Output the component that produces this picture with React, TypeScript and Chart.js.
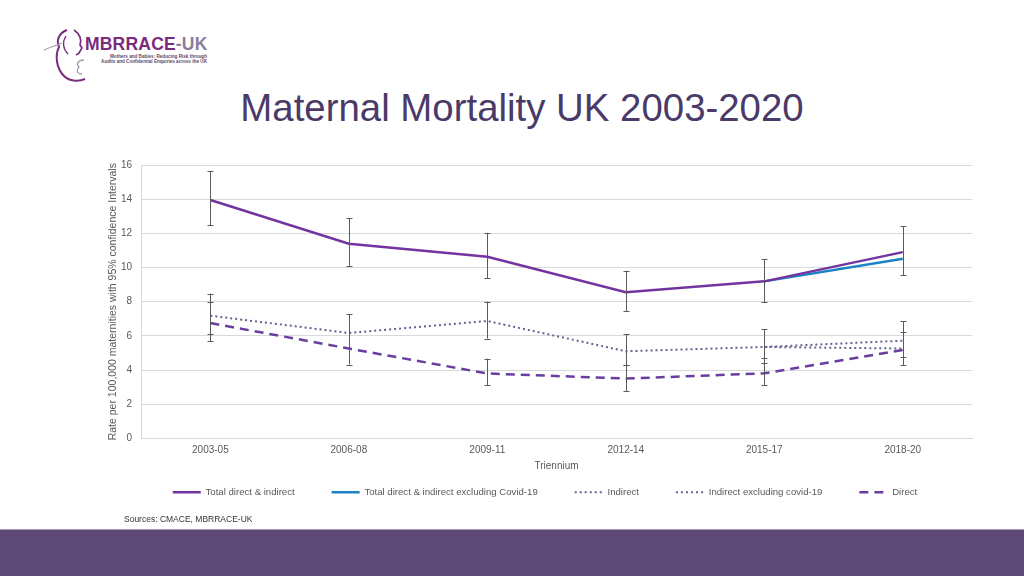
import React, { useEffect, useRef } from "react";
import { Chart, registerables } from "chart.js";

Chart.register(...registerables);

const categories = ["2003-05", "2006-08", "2009-11", "2012-14", "2015-17", "2018-20"];

const total = [13.95, 11.39, 10.63, 8.56, 9.19, 10.9];
const totalLow = [12.46, 10.1, 9.38, 7.44, 7.98, 9.54];
const totalHigh = [15.65, 12.9, 12.03, 9.81, 10.49, 12.42];

const totalExCovid = [null, null, null, null, 9.19, 10.51];

const indirect = [7.18, 6.17, 6.87, 5.1, 5.35, 5.72];
const indirectLow = [6.13, 4.32, 5.84, 4.28, 4.44, 4.77];
const indirectHigh = [8.47, 7.27, 8.0, 6.11, 6.38, 6.87];

const indirectExCovid = [null, null, null, null, 5.35, 5.26];

const direct = [6.75, 5.26, 3.8, 3.5, 3.81, 5.18];
const directLow = [5.7, null, 3.1, 2.76, 3.1, 4.28];
const directHigh = [7.98, null, 4.67, 4.28, 4.71, 6.25];

const yTicks = [0, 2, 4, 6, 8, 10, 12, 14, 16];

const seriesNames = [
  "Total direct & indirect",
  "Total direct & indirect excluding Covid-19",
  "Indirect",
  "Indirect excluding covid-19",
  "Direct",
];

const errorSets = [
  { low: totalLow, high: totalHigh },
  { low: indirectLow, high: indirectHigh },
  { low: directLow, high: directHigh },
];

const FONT = "'Liberation Sans', Arial, sans-serif";

const errorBarPlugin = {
  id: "errorBars",
  afterDatasetsDraw(chart: any) {
    const ctx = chart.ctx;
    const xs = chart.scales.x;
    const ys = chart.scales.y;
    ctx.save();
    ctx.strokeStyle = "#5a5a5a";
    ctx.lineWidth = 1;
    errorSets.forEach((set) => {
      set.low.forEach((lo: any, i: number) => {
        const hi = set.high[i];
        if (lo == null || hi == null) return;
        const x = Math.round(xs.getPixelForValue(i)) + 0.5;
        const y1 = ys.getPixelForValue(lo);
        const y2 = ys.getPixelForValue(hi);
        ctx.beginPath();
        ctx.moveTo(x, y1);
        ctx.lineTo(x, y2);
        ctx.moveTo(x - 3, Math.round(y1) + 0.5);
        ctx.lineTo(x + 3, Math.round(y1) + 0.5);
        ctx.moveTo(x - 3, Math.round(y2) + 0.5);
        ctx.lineTo(x + 3, Math.round(y2) + 0.5);
        ctx.stroke();
      });
    });
    ctx.restore();
  },
};

const LEGEND_SHIFT = 26;
const legendShiftPlugin = {
  id: "legendShift",
  afterLayout(chart: any) {
    const l = chart.legend;
    if (!l) return;
    l.top -= LEGEND_SHIFT;
    l.bottom -= LEGEND_SHIFT;
    l.right += 18;
  },
};

function ChartBox() {
  const ref = useRef<HTMLCanvasElement>(null);
  useEffect(() => {
    if (!ref.current) return;
    const chart = new Chart(ref.current, {
      type: "line",
      data: {
        labels: categories,
        datasets: [
          {
            label: seriesNames[0],
            data: total,
            borderColor: "#7434a0",
            backgroundColor: "#7434a0",
            borderWidth: 2.5,
            pointRadius: 0,
            tension: 0,
          },
          {
            label: seriesNames[1],
            data: totalExCovid,
            borderColor: "#1b82c4",
            backgroundColor: "#1b82c4",
            borderWidth: 2.5,
            pointRadius: 0,
            tension: 0,
          },
          {
            label: seriesNames[2],
            data: indirect,
            borderColor: "#6e5d90",
            backgroundColor: "#6e5d90",
            borderWidth: 2,
            borderDash: [2, 3],
            pointRadius: 0,
            tension: 0,
          },
          {
            label: seriesNames[3],
            data: indirectExCovid,
            borderColor: "#5f6a86",
            backgroundColor: "#5f6a86",
            borderWidth: 2,
            borderDash: [2, 3],
            pointRadius: 0,
            tension: 0,
          },
          {
            label: seriesNames[4],
            data: direct,
            borderColor: "#6a3ea0",
            backgroundColor: "#6a3ea0",
            borderWidth: 2.5,
            borderDash: [9, 6],
            pointRadius: 0,
            tension: 0,
          },
        ],
      },
      options: {
        animation: false,
        responsive: true,
        maintainAspectRatio: false,
        layout: { padding: { top: 8, left: 0, right: 18, bottom: 0 } },
        plugins: {
          legend: {
            position: "bottom",
            labels: {
              usePointStyle: true,
              pointStyle: "line",
              pointStyleWidth: 28,
              boxWidth: 28,
              padding: 37,
              color: "#595959",
              font: { family: FONT, size: 9.6 },
              generateLabels(chart: any) {
                const items = Chart.defaults.plugins.legend.labels.generateLabels(chart);
                return items.map((it: any) => {
                  const ds = chart.data.datasets[it.datasetIndex];
                  return {
                    ...it,
                    lineDash: ds.borderDash || [],
                    lineWidth: ds.borderWidth,
                    strokeStyle: ds.borderColor,
                  };
                });
              },
            },
          },
          tooltip: { enabled: false },
        },
        scales: {
          x: {
            offset: true,
            grid: { display: false, drawTicks: false },
            border: { display: true, color: "#d9d9d9" },
            ticks: { color: "#595959", font: { family: FONT, size: 10 }, padding: 6 },
            title: {
              display: true,
              text: "Triennium",
              color: "#595959",
              font: { family: FONT, size: 10 },
              padding: { top: -2, bottom: 4 },
            },
          },
          y: {
            min: 0,
            max: 16,
            afterBuildTicks(scale: any) {
              scale.ticks = yTicks.map((v) => ({ value: v }));
            },
            grid: { color: "#d9d9d9", drawTicks: false },
            border: { display: true, color: "#d9d9d9" },
            ticks: { color: "#595959", font: { family: FONT, size: 10 }, padding: 9 },
            title: {
              display: true,
              text: "Rate per 100,000 maternities with 95% confidence Intervals",
              color: "#595959",
              font: { family: FONT, size: 10.5 },
              padding: { top: 7, bottom: -7.6 },
            },
          },
        },
      },
      plugins: [errorBarPlugin, legendShiftPlugin],
    });
    return () => chart.destroy();
  }, []);
  return (
    <div style={{ position: "absolute", left: 100, top: 150, width: 890, height: 383 }}>
      <canvas ref={ref} />
    </div>
  );
}

function Logo() {
  return (
    <div style={{ position: "absolute", left: 0, top: 0, width: 240, height: 90 }}>
      <svg width="240" height="90" style={{ position: "absolute", left: 0, top: 0 }}>
        <path d="M67 30 C59 33 56 40 59 47 C55 55 56 68 64 76 C69 81 78 82 85 79" fill="none" stroke="#7a2e7c" strokeWidth="2" />
        <path d="M74 30 C80 34 82 40 80 45 L82 48 C80 50 81 53 76 55" fill="none" stroke="#7a2e7c" strokeWidth="1.7" />
        <path d="M66 36 C62 42 63 49 68 54" fill="none" stroke="#7a2e7c" strokeWidth="1.3" />
        <path d="M44 50 C50 47 56 46 62 43" fill="none" stroke="#a597b0" strokeWidth="1.3" />
        <path d="M84 60 C78 60 76 64 79 67 C76 70 77 74 82 74" fill="none" stroke="#a898b4" strokeWidth="1.3" />
      </svg>
      <div
        style={{
          position: "absolute",
          left: 85,
          top: 34,
          fontFamily: FONT,
          fontWeight: 700,
          fontSize: 17.5,
          lineHeight: "20px",
          letterSpacing: 0.2,
          whiteSpace: "nowrap",
        }}
      >
        <span style={{ color: "#7b2a7d" }}>MBRRACE</span>
        <span style={{ color: "#8c7c9c" }}>-UK</span>
      </div>
      <div
        style={{
          position: "absolute",
          right: 240 - 207,
          top: 53.5,
          fontFamily: FONT,
          fontWeight: 700,
          fontSize: 4.6,
          lineHeight: "5.6px",
          color: "#5b4b6b",
          textAlign: "right",
          whiteSpace: "nowrap",
        }}
      >
        <div>Mothers and Babies: Reducing Risk through</div>
        <div>Audits and Confidential Enquiries across the UK</div>
      </div>
    </div>
  );
}

export default function App() {
  return (
    <div
      style={{
        position: "fixed",
        left: 0,
        top: 0,
        width: 1024,
        height: 576,
        background: "#ffffff",
        overflow: "hidden",
      }}
    >
      <Logo />
      <div
        style={{
          position: "absolute",
          left: 0,
          width: 1044,
          top: 89,
          textAlign: "center",
          fontFamily: FONT,
          fontSize: 38.4,
          lineHeight: "38px",
          color: "#4a3a68",
          whiteSpace: "nowrap",
        }}
      >
        Maternal Mortality UK 2003-2020
      </div>
      <ChartBox />
      <div
        style={{
          position: "absolute",
          left: 124,
          top: 514,
          fontFamily: FONT,
          fontSize: 8.5,
          lineHeight: "11px",
          color: "#333333",
          whiteSpace: "nowrap",
        }}
      >
        Sources: CMACE, MBRRACE-UK
      </div>
      <div
        style={{
          position: "absolute",
          left: 0,
          top: 529,
          width: 1024,
          height: 47,
          background: "#5d4977",
          borderTop: "1px solid #a89cb8",
          boxSizing: "border-box",
        }}
      />
    </div>
  );
}
